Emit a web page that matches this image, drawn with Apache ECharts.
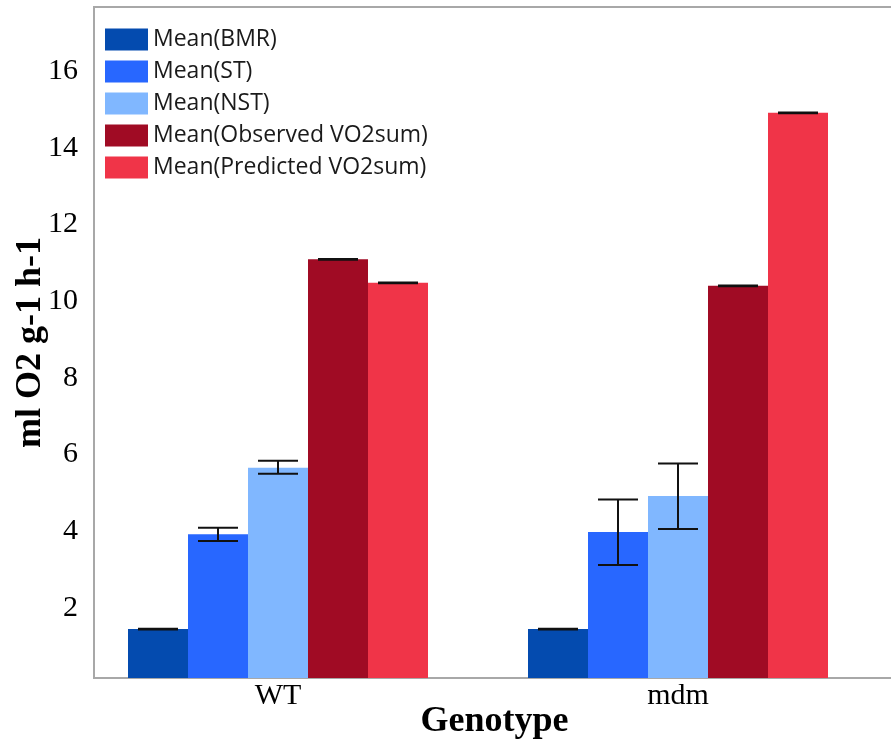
<!DOCTYPE html>
<html>
<head>
<meta charset="utf-8">
<script src="https://cdn.jsdelivr.net/npm/echarts@6/dist/echarts.min.js"></script>
<style>
html,body{margin:0;padding:0;background:#fff;}
#chart{width:891px;height:755px;}
</style>
</head>
<body>
<div id="chart"></div>
<script>
// ---- data ----
const categories = ['WT', 'mdm'];
const seriesNames = ['Mean(BMR)', 'Mean(ST)', 'Mean(NST)', 'Mean(Observed VO2sum)', 'Mean(Predicted VO2sum)'];
const bmr = [1.45, 1.45];
const st = [3.92, 3.98];
const nst = [5.66, 4.92];
const observed = [11.09, 10.40];
const predicted = [10.48, 14.91];
// error bar extents [low, high]
const bmrErr = [[1.44, 1.46], [1.44, 1.46]];
const stErr = [[3.75, 4.09], [3.12, 4.83]];
const nstErr = [[5.50, 5.84], [4.06, 5.77]];
const observedErr = [[11.08, 11.10], [10.39, 10.41]];
const predictedErr = [[10.47, 10.49], [14.90, 14.92]];
const yTicks = [2, 4, 6, 8, 10, 12, 14, 16];

const colors = ['#044BAF', '#2867FF', '#80B7FF', '#A00B24', '#F03448'];
const values = [bmr, st, nst, observed, predicted];
const errs = [bmrErr, stErr, nstErr, observedErr, predictedErr];

const chart = echarts.init(document.getElementById('chart'));
const BAR_W = 60;
const gridLeft = 94, gridRight = -4;
const xMin = 0.54;
const pxPerUnit = 400;
const xMax = xMin + (891 - gridLeft - gridRight) / pxPerUnit;

const series = [];
values.forEach((vals, i) => {
  series.push({
    name: seriesNames[i],
    type: 'bar',
    barWidth: BAR_W,
    barGap: '0%',
    itemStyle: { color: colors[i] },
    data: vals.map((v, j) => [j + 1, v]),
    z: 2
  });
});
errs.forEach((e, i) => {
  series.push({
    name: 'err' + i,
    type: 'custom',
    z: 5,
    data: e.map((lh, j) => [j + 1, lh[0], lh[1]]),
    renderItem: function (params, api) {
      const off = (i - 2) * BAR_W;
      const lo = api.coord([api.value(0), api.value(1)]);
      const hi = api.coord([api.value(0), api.value(2)]);
      const x = lo[0] + off;
      const hw = 20;
      const st = { stroke: '#111', lineWidth: 2 };
      return {
        type: 'group',
        children: [
          { type: 'line', shape: { x1: x, y1: lo[1], x2: x, y2: hi[1] }, style: st },
          { type: 'line', shape: { x1: x - hw, y1: lo[1], x2: x + hw, y2: lo[1] }, style: st },
          { type: 'line', shape: { x1: x - hw, y1: hi[1], x2: x + hw, y2: hi[1] }, style: st }
        ]
      };
    }
  });
});

chart.setOption({
  animation: false,
  backgroundColor: '#fff',
  grid: { left: gridLeft, right: gridRight, top: 7, bottom: 755 - 678, show: true, borderColor: '#A8A8A8', borderWidth: 2, containLabel: false, outerBoundsMode: 'none' },
  legend: {
    data: seriesNames,
    orient: 'vertical',
    left: 100, top: 23,
    itemWidth: 43, itemHeight: 22, itemGap: 9,
    icon: 'rect',
    selectedMode: false,
    textStyle: { fontFamily: 'Open Sans', fontSize: 23, color: '#1a1a1a' }
  },
  xAxis: {
    type: 'value',
    min: xMin, max: xMax,
    name: 'Genotype',
    nameLocation: 'middle',
    nameGap: 26,
    nameMoveOverlap: false,
    nameTextStyle: { fontFamily: 'Liberation Serif', fontWeight: 'bold', fontSize: 36, color: '#000' },
    axisLine: { show: false },
    axisTick: { show: false },
    splitLine: { show: false },
    axisLabel: {
      customValues: [1, 2],
      formatter: v => categories[Math.round(v) - 1] || '',
      fontFamily: 'Liberation Serif', fontSize: 30, color: '#000', margin: 3
    }
  },
  yAxis: {
    type: 'value',
    min: 0.175, max: 17.67,
    name: 'ml O2 g-1 h-1',
    nameLocation: 'middle',
    nameGap: 45,
    nameMoveOverlap: false,
    nameTextStyle: { fontFamily: 'Liberation Serif', fontWeight: 'bold', fontSize: 36, color: '#000' },
    axisLine: { show: false },
    axisTick: { show: false },
    splitLine: { show: false },
    axisLabel: {
      customValues: yTicks,
      fontFamily: 'Liberation Serif', fontSize: 30, color: '#000', margin: 16
    }
  },
  series: series
});
</script>
</body>
</html>
